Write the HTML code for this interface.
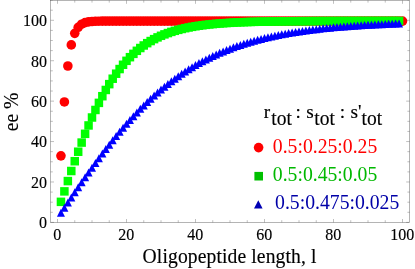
<!DOCTYPE html><html><head><meta charset="utf-8"><style>html,body{margin:0;padding:0;background:#fff;overflow:hidden}svg{display:block;will-change:transform}text{font-family:"Liberation Serif",serif;stroke:#000;stroke-width:0.14px}</style></head><body>
<svg width="415" height="269" viewBox="0 0 415 269">
<rect width="415" height="269" fill="#fff"/>
<g fill="#ff0000"><circle cx="60.95" cy="155.83" r="4.8"/><circle cx="64.40" cy="101.94" r="4.8"/><circle cx="67.85" cy="66.01" r="4.8"/><circle cx="71.30" cy="44.88" r="4.8"/><circle cx="74.75" cy="33.35" r="4.8"/><circle cx="78.20" cy="27.32" r="4.8"/><circle cx="81.65" cy="24.23" r="4.8"/><circle cx="85.10" cy="22.67" r="4.8"/><circle cx="88.55" cy="21.89" r="4.8"/><circle cx="92.00" cy="21.49" r="4.8"/><circle cx="95.45" cy="21.30" r="4.8"/><circle cx="98.90" cy="21.20" r="4.8"/><circle cx="102.35" cy="21.15" r="4.8"/><circle cx="105.80" cy="21.12" r="4.8"/><circle cx="109.25" cy="21.11" r="4.8"/><circle cx="112.70" cy="21.11" r="4.8"/><circle cx="116.15" cy="21.10" r="4.8"/><circle cx="119.60" cy="21.10" r="4.8"/><circle cx="123.05" cy="21.10" r="4.8"/><circle cx="126.50" cy="21.10" r="4.8"/><circle cx="129.95" cy="21.10" r="4.8"/><circle cx="133.40" cy="21.10" r="4.8"/><circle cx="136.85" cy="21.10" r="4.8"/><circle cx="140.30" cy="21.10" r="4.8"/><circle cx="143.75" cy="21.10" r="4.8"/><circle cx="147.20" cy="21.10" r="4.8"/><circle cx="150.65" cy="21.10" r="4.8"/><circle cx="154.10" cy="21.10" r="4.8"/><circle cx="157.55" cy="21.10" r="4.8"/><circle cx="161.00" cy="21.10" r="4.8"/><circle cx="164.45" cy="21.10" r="4.8"/><circle cx="167.90" cy="21.10" r="4.8"/><circle cx="171.35" cy="21.10" r="4.8"/><circle cx="174.80" cy="21.10" r="4.8"/><circle cx="178.25" cy="21.10" r="4.8"/><circle cx="181.70" cy="21.10" r="4.8"/><circle cx="185.15" cy="21.10" r="4.8"/><circle cx="188.60" cy="21.10" r="4.8"/><circle cx="192.05" cy="21.10" r="4.8"/><circle cx="195.50" cy="21.10" r="4.8"/><circle cx="198.95" cy="21.10" r="4.8"/><circle cx="202.40" cy="21.10" r="4.8"/><circle cx="205.85" cy="21.10" r="4.8"/><circle cx="209.30" cy="21.10" r="4.8"/><circle cx="212.75" cy="21.10" r="4.8"/><circle cx="216.20" cy="21.10" r="4.8"/><circle cx="219.65" cy="21.10" r="4.8"/><circle cx="223.10" cy="21.10" r="4.8"/><circle cx="226.55" cy="21.10" r="4.8"/><circle cx="230.00" cy="21.10" r="4.8"/><circle cx="233.45" cy="21.10" r="4.8"/><circle cx="236.90" cy="21.10" r="4.8"/><circle cx="240.35" cy="21.10" r="4.8"/><circle cx="243.80" cy="21.10" r="4.8"/><circle cx="247.25" cy="21.10" r="4.8"/><circle cx="250.70" cy="21.10" r="4.8"/><circle cx="254.15" cy="21.10" r="4.8"/><circle cx="257.60" cy="21.10" r="4.8"/><circle cx="261.05" cy="21.10" r="4.8"/><circle cx="264.50" cy="21.10" r="4.8"/><circle cx="267.95" cy="21.10" r="4.8"/><circle cx="271.40" cy="21.10" r="4.8"/><circle cx="274.85" cy="21.10" r="4.8"/><circle cx="278.30" cy="21.10" r="4.8"/><circle cx="281.75" cy="21.10" r="4.8"/><circle cx="285.20" cy="21.10" r="4.8"/><circle cx="288.65" cy="21.10" r="4.8"/><circle cx="292.10" cy="21.10" r="4.8"/><circle cx="295.55" cy="21.10" r="4.8"/><circle cx="299.00" cy="21.10" r="4.8"/><circle cx="302.45" cy="21.10" r="4.8"/><circle cx="305.90" cy="21.10" r="4.8"/><circle cx="309.35" cy="21.10" r="4.8"/><circle cx="312.80" cy="21.10" r="4.8"/><circle cx="316.25" cy="21.10" r="4.8"/><circle cx="319.70" cy="21.10" r="4.8"/><circle cx="323.15" cy="21.10" r="4.8"/><circle cx="326.60" cy="21.10" r="4.8"/><circle cx="330.05" cy="21.10" r="4.8"/><circle cx="333.50" cy="21.10" r="4.8"/><circle cx="336.95" cy="21.10" r="4.8"/><circle cx="340.40" cy="21.10" r="4.8"/><circle cx="343.85" cy="21.10" r="4.8"/><circle cx="347.30" cy="21.10" r="4.8"/><circle cx="350.75" cy="21.10" r="4.8"/><circle cx="354.20" cy="21.10" r="4.8"/><circle cx="357.65" cy="21.10" r="4.8"/><circle cx="361.10" cy="21.10" r="4.8"/><circle cx="364.55" cy="21.10" r="4.8"/><circle cx="368.00" cy="21.10" r="4.8"/><circle cx="371.45" cy="21.10" r="4.8"/><circle cx="374.90" cy="21.10" r="4.8"/><circle cx="378.35" cy="21.10" r="4.8"/><circle cx="381.80" cy="21.10" r="4.8"/><circle cx="385.25" cy="21.10" r="4.8"/><circle cx="388.70" cy="21.10" r="4.8"/><circle cx="392.15" cy="21.10" r="4.8"/><circle cx="395.60" cy="21.10" r="4.8"/><circle cx="399.05" cy="21.10" r="4.8"/><circle cx="402.50" cy="21.10" r="4.8"/></g>
<g fill="#00ff00"><rect x="56.70" y="197.59" width="8.5" height="8.5"/><rect x="60.15" y="187.12" width="8.5" height="8.5"/><rect x="63.60" y="176.83" width="8.5" height="8.5"/><rect x="67.05" y="166.76" width="8.5" height="8.5"/><rect x="70.50" y="156.97" width="8.5" height="8.5"/><rect x="73.95" y="147.48" width="8.5" height="8.5"/><rect x="77.40" y="138.33" width="8.5" height="8.5"/><rect x="80.85" y="129.57" width="8.5" height="8.5"/><rect x="84.30" y="121.20" width="8.5" height="8.5"/><rect x="87.75" y="113.25" width="8.5" height="8.5"/><rect x="91.20" y="105.72" width="8.5" height="8.5"/><rect x="94.65" y="98.62" width="8.5" height="8.5"/><rect x="98.10" y="91.95" width="8.5" height="8.5"/><rect x="101.55" y="85.71" width="8.5" height="8.5"/><rect x="105.00" y="79.89" width="8.5" height="8.5"/><rect x="108.45" y="74.47" width="8.5" height="8.5"/><rect x="111.90" y="69.45" width="8.5" height="8.5"/><rect x="115.35" y="64.80" width="8.5" height="8.5"/><rect x="118.80" y="60.51" width="8.5" height="8.5"/><rect x="122.25" y="56.57" width="8.5" height="8.5"/><rect x="125.70" y="52.94" width="8.5" height="8.5"/><rect x="129.15" y="49.61" width="8.5" height="8.5"/><rect x="132.60" y="46.56" width="8.5" height="8.5"/><rect x="136.05" y="43.77" width="8.5" height="8.5"/><rect x="139.50" y="41.23" width="8.5" height="8.5"/><rect x="142.95" y="38.91" width="8.5" height="8.5"/><rect x="146.40" y="36.80" width="8.5" height="8.5"/><rect x="149.85" y="34.88" width="8.5" height="8.5"/><rect x="153.30" y="33.14" width="8.5" height="8.5"/><rect x="156.75" y="31.55" width="8.5" height="8.5"/><rect x="160.20" y="30.12" width="8.5" height="8.5"/><rect x="163.65" y="28.82" width="8.5" height="8.5"/><rect x="167.10" y="27.64" width="8.5" height="8.5"/><rect x="170.55" y="26.57" width="8.5" height="8.5"/><rect x="174.00" y="25.61" width="8.5" height="8.5"/><rect x="177.45" y="24.73" width="8.5" height="8.5"/><rect x="180.90" y="23.94" width="8.5" height="8.5"/><rect x="184.35" y="23.23" width="8.5" height="8.5"/><rect x="187.80" y="22.59" width="8.5" height="8.5"/><rect x="191.25" y="22.01" width="8.5" height="8.5"/><rect x="194.70" y="21.48" width="8.5" height="8.5"/><rect x="198.15" y="21.01" width="8.5" height="8.5"/><rect x="201.60" y="20.58" width="8.5" height="8.5"/><rect x="205.05" y="20.20" width="8.5" height="8.5"/><rect x="208.50" y="19.85" width="8.5" height="8.5"/><rect x="211.95" y="19.54" width="8.5" height="8.5"/><rect x="215.40" y="19.26" width="8.5" height="8.5"/><rect x="218.85" y="19.00" width="8.5" height="8.5"/><rect x="222.30" y="18.77" width="8.5" height="8.5"/><rect x="225.75" y="18.57" width="8.5" height="8.5"/><rect x="229.20" y="18.38" width="8.5" height="8.5"/><rect x="232.65" y="18.21" width="8.5" height="8.5"/><rect x="236.10" y="18.06" width="8.5" height="8.5"/><rect x="239.55" y="17.93" width="8.5" height="8.5"/><rect x="243.00" y="17.80" width="8.5" height="8.5"/><rect x="246.45" y="17.69" width="8.5" height="8.5"/><rect x="249.90" y="17.59" width="8.5" height="8.5"/><rect x="253.35" y="17.51" width="8.5" height="8.5"/><rect x="256.80" y="17.43" width="8.5" height="8.5"/><rect x="260.25" y="17.35" width="8.5" height="8.5"/><rect x="263.70" y="17.29" width="8.5" height="8.5"/><rect x="267.15" y="17.23" width="8.5" height="8.5"/><rect x="270.60" y="17.18" width="8.5" height="8.5"/><rect x="274.05" y="17.13" width="8.5" height="8.5"/><rect x="277.50" y="17.09" width="8.5" height="8.5"/><rect x="280.95" y="17.05" width="8.5" height="8.5"/><rect x="284.40" y="17.01" width="8.5" height="8.5"/><rect x="287.85" y="16.98" width="8.5" height="8.5"/><rect x="291.30" y="16.95" width="8.5" height="8.5"/><rect x="294.75" y="16.93" width="8.5" height="8.5"/><rect x="298.20" y="16.91" width="8.5" height="8.5"/><rect x="301.65" y="16.88" width="8.5" height="8.5"/><rect x="305.10" y="16.87" width="8.5" height="8.5"/><rect x="308.55" y="16.85" width="8.5" height="8.5"/><rect x="312.00" y="16.83" width="8.5" height="8.5"/><rect x="315.45" y="16.82" width="8.5" height="8.5"/><rect x="318.90" y="16.81" width="8.5" height="8.5"/><rect x="322.35" y="16.80" width="8.5" height="8.5"/><rect x="325.80" y="16.79" width="8.5" height="8.5"/><rect x="329.25" y="16.78" width="8.5" height="8.5"/><rect x="332.70" y="16.77" width="8.5" height="8.5"/><rect x="336.15" y="16.76" width="8.5" height="8.5"/><rect x="339.60" y="16.76" width="8.5" height="8.5"/><rect x="343.05" y="16.75" width="8.5" height="8.5"/><rect x="346.50" y="16.75" width="8.5" height="8.5"/><rect x="349.95" y="16.74" width="8.5" height="8.5"/><rect x="353.40" y="16.74" width="8.5" height="8.5"/><rect x="356.85" y="16.73" width="8.5" height="8.5"/><rect x="360.30" y="16.73" width="8.5" height="8.5"/><rect x="363.75" y="16.73" width="8.5" height="8.5"/><rect x="367.20" y="16.72" width="8.5" height="8.5"/><rect x="370.65" y="16.72" width="8.5" height="8.5"/><rect x="374.10" y="16.72" width="8.5" height="8.5"/><rect x="377.55" y="16.72" width="8.5" height="8.5"/><rect x="381.00" y="16.72" width="8.5" height="8.5"/><rect x="384.45" y="16.71" width="8.5" height="8.5"/><rect x="387.90" y="16.71" width="8.5" height="8.5"/><rect x="391.35" y="16.71" width="8.5" height="8.5"/><rect x="394.80" y="16.71" width="8.5" height="8.5"/></g>
<g fill="#0000ff"><path d="M60.95 208.84L64.95 216.84L56.95 216.84Z"/><path d="M64.40 203.68L68.40 211.68L60.40 211.68Z"/><path d="M67.85 198.54L71.85 206.54L63.85 206.54Z"/><path d="M71.30 193.43L75.30 201.43L67.30 201.43Z"/><path d="M74.75 188.34L78.75 196.34L70.75 196.34Z"/><path d="M78.20 183.30L82.20 191.30L74.20 191.30Z"/><path d="M81.65 178.31L85.65 186.31L77.65 186.31Z"/><path d="M85.10 173.36L89.10 181.36L81.10 181.36Z"/><path d="M88.55 168.48L92.55 176.48L84.55 176.48Z"/><path d="M92.00 163.65L96.00 171.65L88.00 171.65Z"/><path d="M95.45 158.89L99.45 166.89L91.45 166.89Z"/><path d="M98.90 154.21L102.90 162.21L94.90 162.21Z"/><path d="M102.35 149.60L106.35 157.60L98.35 157.60Z"/><path d="M105.80 145.07L109.80 153.07L101.80 153.07Z"/><path d="M109.25 140.63L113.25 148.63L105.25 148.63Z"/><path d="M112.70 136.27L116.70 144.27L108.70 144.27Z"/><path d="M116.15 132.01L120.15 140.01L112.15 140.01Z"/><path d="M119.60 127.84L123.60 135.84L115.60 135.84Z"/><path d="M123.05 123.76L127.05 131.76L119.05 131.76Z"/><path d="M126.50 119.78L130.50 127.78L122.50 127.78Z"/><path d="M129.95 115.91L133.95 123.91L125.95 123.91Z"/><path d="M133.40 112.13L137.40 120.13L129.40 120.13Z"/><path d="M136.85 108.45L140.85 116.45L132.85 116.45Z"/><path d="M140.30 104.87L144.30 112.87L136.30 112.87Z"/><path d="M143.75 101.40L147.75 109.40L139.75 109.40Z"/><path d="M147.20 98.03L151.20 106.03L143.20 106.03Z"/><path d="M150.65 94.76L154.65 102.76L146.65 102.76Z"/><path d="M154.10 91.59L158.10 99.59L150.10 99.59Z"/><path d="M157.55 88.53L161.55 96.53L153.55 96.53Z"/><path d="M161.00 85.56L165.00 93.56L157.00 93.56Z"/><path d="M164.45 82.69L168.45 90.69L160.45 90.69Z"/><path d="M167.90 79.92L171.90 87.92L163.90 87.92Z"/><path d="M171.35 77.25L175.35 85.25L167.35 85.25Z"/><path d="M174.80 74.67L178.80 82.67L170.80 82.67Z"/><path d="M178.25 72.18L182.25 80.18L174.25 80.18Z"/><path d="M181.70 69.79L185.70 77.79L177.70 77.79Z"/><path d="M185.15 67.48L189.15 75.48L181.15 75.48Z"/><path d="M188.60 65.26L192.60 73.26L184.60 73.26Z"/><path d="M192.05 63.13L196.05 71.13L188.05 71.13Z"/><path d="M195.50 61.08L199.50 69.08L191.50 69.08Z"/><path d="M198.95 59.11L202.95 67.11L194.95 67.11Z"/><path d="M202.40 57.22L206.40 65.22L198.40 65.22Z"/><path d="M205.85 55.40L209.85 63.40L201.85 63.40Z"/><path d="M209.30 53.66L213.30 61.66L205.30 61.66Z"/><path d="M212.75 51.99L216.75 59.99L208.75 59.99Z"/><path d="M216.20 50.39L220.20 58.39L212.20 58.39Z"/><path d="M219.65 48.85L223.65 56.85L215.65 56.85Z"/><path d="M223.10 47.39L227.10 55.39L219.10 55.39Z"/><path d="M226.55 45.98L230.55 53.98L222.55 53.98Z"/><path d="M230.00 44.63L234.00 52.63L226.00 52.63Z"/><path d="M233.45 43.35L237.45 51.35L229.45 51.35Z"/><path d="M236.90 42.12L240.90 50.12L232.90 50.12Z"/><path d="M240.35 40.94L244.35 48.94L236.35 48.94Z"/><path d="M243.80 39.81L247.80 47.81L239.80 47.81Z"/><path d="M247.25 38.74L251.25 46.74L243.25 46.74Z"/><path d="M250.70 37.71L254.70 45.71L246.70 45.71Z"/><path d="M254.15 36.73L258.15 44.73L250.15 44.73Z"/><path d="M257.60 35.79L261.60 43.79L253.60 43.79Z"/><path d="M261.05 34.90L265.05 42.90L257.05 42.90Z"/><path d="M264.50 34.05L268.50 42.05L260.50 42.05Z"/><path d="M267.95 33.23L271.95 41.23L263.95 41.23Z"/><path d="M271.40 32.46L275.40 40.46L267.40 40.46Z"/><path d="M274.85 31.72L278.85 39.72L270.85 39.72Z"/><path d="M278.30 31.01L282.30 39.01L274.30 39.01Z"/><path d="M281.75 30.34L285.75 38.34L277.75 38.34Z"/><path d="M285.20 29.70L289.20 37.70L281.20 37.70Z"/><path d="M288.65 29.09L292.65 37.09L284.65 37.09Z"/><path d="M292.10 28.50L296.10 36.50L288.10 36.50Z"/><path d="M295.55 27.95L299.55 35.95L291.55 35.95Z"/><path d="M299.00 27.42L303.00 35.42L295.00 35.42Z"/><path d="M302.45 26.92L306.45 34.92L298.45 34.92Z"/><path d="M305.90 26.44L309.90 34.44L301.90 34.44Z"/><path d="M309.35 25.98L313.35 33.98L305.35 33.98Z"/><path d="M312.80 25.55L316.80 33.55L308.80 33.55Z"/><path d="M316.25 25.13L320.25 33.13L312.25 33.13Z"/><path d="M319.70 24.74L323.70 32.74L315.70 32.74Z"/><path d="M323.15 24.36L327.15 32.36L319.15 32.36Z"/><path d="M326.60 24.01L330.60 32.01L322.60 32.01Z"/><path d="M330.05 23.67L334.05 31.67L326.05 31.67Z"/><path d="M333.50 23.34L337.50 31.34L329.50 31.34Z"/><path d="M336.95 23.04L340.95 31.04L332.95 31.04Z"/><path d="M340.40 22.74L344.40 30.74L336.40 30.74Z"/><path d="M343.85 22.47L347.85 30.47L339.85 30.47Z"/><path d="M347.30 22.20L351.30 30.20L343.30 30.20Z"/><path d="M350.75 21.95L354.75 29.95L346.75 29.95Z"/><path d="M354.20 21.71L358.20 29.71L350.20 29.71Z"/><path d="M357.65 21.48L361.65 29.48L353.65 29.48Z"/><path d="M361.10 21.26L365.10 29.26L357.10 29.26Z"/><path d="M364.55 21.06L368.55 29.06L360.55 29.06Z"/><path d="M368.00 20.86L372.00 28.86L364.00 28.86Z"/><path d="M371.45 20.68L375.45 28.68L367.45 28.68Z"/><path d="M374.90 20.50L378.90 28.50L370.90 28.50Z"/><path d="M378.35 20.33L382.35 28.33L374.35 28.33Z"/><path d="M381.80 20.17L385.80 28.17L377.80 28.17Z"/><path d="M385.25 20.02L389.25 28.02L381.25 28.02Z"/><path d="M388.70 19.87L392.70 27.87L384.70 27.87Z"/><path d="M392.15 19.73L396.15 27.73L388.15 27.73Z"/><path d="M395.60 19.60L399.60 27.60L391.60 27.60Z"/><path d="M399.05 19.48L403.05 27.48L395.05 27.48Z"/></g>
<rect x="50.6" y="0.4" width="359.0" height="222.0" fill="none" stroke="#444" stroke-width="0.4"/>
<path d="M57.50 222.4v-3.4M57.50 0.4v3.4M74.75 222.4v-2.2M74.75 0.4v2.2M92.00 222.4v-2.2M92.00 0.4v2.2M109.25 222.4v-2.2M109.25 0.4v2.2M126.50 222.4v-3.4M126.50 0.4v3.4M143.75 222.4v-2.2M143.75 0.4v2.2M161.00 222.4v-2.2M161.00 0.4v2.2M178.25 222.4v-2.2M178.25 0.4v2.2M195.50 222.4v-3.4M195.50 0.4v3.4M212.75 222.4v-2.2M212.75 0.4v2.2M230.00 222.4v-2.2M230.00 0.4v2.2M247.25 222.4v-2.2M247.25 0.4v2.2M264.50 222.4v-3.4M264.50 0.4v3.4M281.75 222.4v-2.2M281.75 0.4v2.2M299.00 222.4v-2.2M299.00 0.4v2.2M316.25 222.4v-2.2M316.25 0.4v2.2M333.50 222.4v-3.4M333.50 0.4v3.4M350.75 222.4v-2.2M350.75 0.4v2.2M368.00 222.4v-2.2M368.00 0.4v2.2M385.25 222.4v-2.2M385.25 0.4v2.2M402.50 222.4v-3.4M402.50 0.4v3.4M50.6 222.40h3.4M409.6 222.40h-3.4M50.6 212.30h2.2M409.6 212.30h-2.2M50.6 202.19h2.2M409.6 202.19h-2.2M50.6 192.09h2.2M409.6 192.09h-2.2M50.6 181.98h3.4M409.6 181.98h-3.4M50.6 171.88h2.2M409.6 171.88h-2.2M50.6 161.77h2.2M409.6 161.77h-2.2M50.6 151.67h2.2M409.6 151.67h-2.2M50.6 141.56h3.4M409.6 141.56h-3.4M50.6 131.46h2.2M409.6 131.46h-2.2M50.6 121.35h2.2M409.6 121.35h-2.2M50.6 111.25h2.2M409.6 111.25h-2.2M50.6 101.14h3.4M409.6 101.14h-3.4M50.6 91.04h2.2M409.6 91.04h-2.2M50.6 80.93h2.2M409.6 80.93h-2.2M50.6 70.83h2.2M409.6 70.83h-2.2M50.6 60.72h3.4M409.6 60.72h-3.4M50.6 50.62h2.2M409.6 50.62h-2.2M50.6 40.51h2.2M409.6 40.51h-2.2M50.6 30.41h2.2M409.6 30.41h-2.2M50.6 20.30h3.4M409.6 20.30h-3.4M50.6 10.20h2.2M409.6 10.20h-2.2M50.6 0.09h2.2M409.6 0.09h-2.2" stroke="#444" stroke-width="0.34" fill="none"/>
<text transform="translate(57.20,239.80) scale(0.96,1.06)" font-size="16.7" text-anchor="middle">0</text>
<text transform="translate(126.20,239.80) scale(0.96,1.06)" font-size="16.7" text-anchor="middle">20</text>
<text transform="translate(195.20,239.80) scale(0.96,1.06)" font-size="16.7" text-anchor="middle">40</text>
<text transform="translate(264.20,239.80) scale(0.96,1.06)" font-size="16.7" text-anchor="middle">60</text>
<text transform="translate(333.20,239.80) scale(0.96,1.06)" font-size="16.7" text-anchor="middle">80</text>
<text transform="translate(402.20,239.80) scale(0.96,1.06)" font-size="16.7" text-anchor="middle">100</text>
<text transform="translate(47.00,228.20) scale(0.96,1.06)" font-size="16.7" text-anchor="end">0</text>
<text transform="translate(47.00,187.78) scale(0.96,1.06)" font-size="16.7" text-anchor="end">20</text>
<text transform="translate(47.00,147.36) scale(0.96,1.06)" font-size="16.7" text-anchor="end">40</text>
<text transform="translate(47.00,106.94) scale(0.96,1.06)" font-size="16.7" text-anchor="end">60</text>
<text transform="translate(47.00,66.52) scale(0.96,1.06)" font-size="16.7" text-anchor="end">80</text>
<text transform="translate(47.00,26.10) scale(0.96,1.06)" font-size="16.7" text-anchor="end">100</text>
<text transform="translate(142.60,263.00) scale(1.0,1.1)" font-size="19.6" letter-spacing="0.115">Oligopeptide length, l</text>
<text transform="translate(18.40,112.00) rotate(-90) scale(1.0,1.08)" font-size="19.6" text-anchor="middle">ee %</text>
<text transform="translate(263.70,118.10)" font-size="19.3">r</text>
<text transform="translate(271.30,124.50) scale(1.0,1.07)" font-size="19.5">tot</text>
<text transform="translate(295.50,118.10)" font-size="19.3">:</text>
<text transform="translate(306.20,118.10)" font-size="19.3">s</text>
<text transform="translate(314.30,124.50) scale(1.0,1.07)" font-size="19.5">tot</text>
<text transform="translate(339.70,118.10)" font-size="19.3">:</text>
<text transform="translate(350.50,118.10)" font-size="19.3">s</text>
<text transform="translate(357.90,118.10)" font-size="19.3">'</text>
<text transform="translate(361.60,124.50) scale(1.0,1.07)" font-size="19.5">tot</text>
<circle cx="258.6" cy="147.6" r="4.8" fill="#ff0000"/>
<text transform="translate(272.80,152.70) scale(1.0,1.03)" font-size="19.7" fill="#ff0000" style="stroke:none">0.5:0.25:0.25</text>
<rect x="254.4" y="171.9" width="8.6" height="8.6" fill="#00c000"/>
<text transform="translate(272.80,180.80) scale(1.0,1.03)" font-size="19.7" fill="#00b800" style="stroke:none">0.5:0.45:0.05</text>
<path d="M258.3 200.2L262.6 208.6L254 208.6Z" fill="#0000b4"/>
<text transform="translate(275.10,209.00) scale(1.0,1.03)" font-size="19.7" fill="#0000a8" style="stroke:none">0.5:0.475:0.025</text>
</svg></body></html>
